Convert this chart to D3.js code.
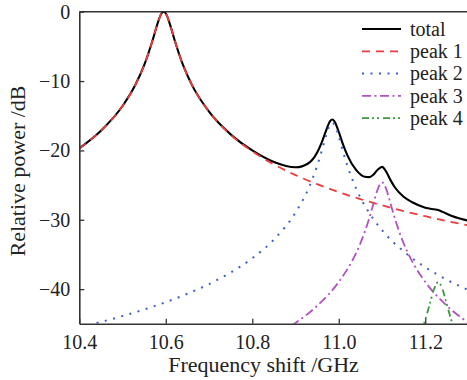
<!DOCTYPE html>
<html><head><meta charset="utf-8">
<script src="https://cdn.jsdelivr.net/npm/d3@7"></script>
<style>body{margin:0;background:#fff}svg{display:block}</style>
</head><body>
<script>
// ---- data ----
const xTicks = [10.4, 10.6, 10.8, 11.0, 11.2];
const yTicks = [0, -10, -20, -30, -40];
const seriesNames = ["total", "peak 1", "peak 2", "peak 3", "peak 4"];

const totalF = [10.40,10.45,10.50,10.53,10.55,10.57,10.58,10.59,10.595,10.60,10.61,10.62,10.64,10.66,10.70,10.75,10.80,10.85,10.90,10.93,10.95,10.96,10.97,10.98,10.985,10.99,11.00,11.01,11.02,11.04,11.06,11.07,11.08,11.09,11.10,11.11,11.12,11.13,11.15,11.17,11.20,11.22,11.23,11.24,11.26,11.28,11.30];
const totalDb = [-19.70,-17.16,-13.60,-10.51,-7.72,-4.01,-1.89,-0.26,0,-0.26,-1.89,-4.01,-7.72,-10.51,-14.41,-17.69,-20.01,-21.67,-22.43,-21.85,-20.31,-18.96,-17.25,-15.78,-15.54,-15.80,-17.33,-19.17,-20.72,-22.81,-23.80,-23.85,-23.50,-22.78,-22.37,-23.10,-24.32,-25.35,-26.68,-27.48,-28.26,-28.49,-28.59,-28.86,-29.41,-29.81,-30.15];

const peak1F = [10.40,10.45,10.50,10.53,10.55,10.57,10.58,10.59,10.595,10.60,10.61,10.62,10.64,10.66,10.70,10.75,10.80,10.85,10.90,10.95,11.00,11.05,11.10,11.15,11.20,11.25,11.30];
const peak1Db = [-19.70,-17.16,-13.60,-10.51,-7.72,-4.01,-1.89,-0.26,0,-0.26,-1.89,-4.01,-7.72,-10.51,-14.43,-17.73,-20.13,-22.01,-23.56,-24.87,-26.01,-27.02,-27.92,-28.74,-29.49,-30.18,-30.82];

const peak2F = [10.44,10.45,10.50,10.55,10.60,10.65,10.70,10.75,10.80,10.85,10.90,10.93,10.95,10.96,10.97,10.98,10.985,10.99,11.00,11.01,11.02,11.04,11.07,11.10,11.15,11.20,11.25,11.30];
const peak2Db = [-44.89,-44.73,-43.88,-42.94,-41.88,-40.67,-39.27,-37.61,-35.55,-32.85,-28.97,-25.48,-22.22,-20.20,-18.00,-16.27,-16.00,-16.27,-18.00,-20.20,-22.22,-25.48,-28.97,-31.50,-34.57,-36.84,-38.65,-40.14];

const peak3F = [10.89,10.90,10.95,11.00,11.03,11.05,11.07,11.08,11.09,11.10,11.11,11.12,11.13,11.15,11.17,11.20,11.25,11.30];
const peak3Db = [-45.28,-44.87,-42.40,-38.96,-36.03,-33.40,-29.87,-27.72,-25.61,-24.60,-25.61,-27.72,-29.87,-33.40,-36.03,-38.96,-42.40,-44.87];

const peak4F = [11.19,11.20,11.21,11.22,11.23,11.24,11.25,11.26,11.27];
const peak4Db = [-46.35,-44.43,-42.24,-40.06,-39.00,-40.06,-42.24,-44.43,-46.35];

// ---- layout ----
const W = 467, H = 380;
const m = {left: 79.3, top: 11.7, right: 468.5, bottom: 323.8};
const x = d3.scaleLinear().domain([10.4, 11.3]).range([m.left, m.right]);
const y = d3.scaleLinear().domain([-45, 0]).range([m.bottom, m.top]);

const svg = d3.select("body").append("svg").attr("width", W).attr("height", H);
const font = "'Liberation Serif', 'Times New Roman', serif";

svg.append("defs").append("clipPath").attr("id", "clip")
  .append("rect").attr("x", m.left).attr("y", m.top).attr("width", m.right - m.left).attr("height", m.bottom - m.top);

const styles = [
  {color: "#000000", width: 2.1, dash: null},
  {color: "#ee3b3b", width: 1.8, dash: "8,6"},
  {color: "#3f5fc8", width: 2.0, dash: "2,6.5"},
  {color: "#b152c0", width: 1.8, dash: "9,3.5,2,3.5"},
  {color: "#3c963c", width: 1.8, dash: "7,3,2,3,2,4"}
];

const series = [
  {f: totalF, v: totalDb},
  {f: peak1F, v: peak1Db},
  {f: peak2F, v: peak2Db},
  {f: peak3F, v: peak3Db},
  {f: peak4F, v: peak4Db}
];

const line = d3.line().x(d => x(d[0])).y(d => y(d[1])).curve(d3.curveMonotoneX);
const g = svg.append("g").attr("clip-path", "url(#clip)");
// draw peaks first, total under the red peak 1 dashed line
[0, 1, 2, 3, 4].forEach(i => {
  const pts = series[i].f.map((f, j) => [f, series[i].v[j]]);
  g.append("path").attr("d", line(pts)).attr("fill", "none")
    .attr("stroke", styles[i].color).attr("stroke-width", styles[i].width)
    .attr("stroke-dasharray", styles[i].dash).attr("stroke-linejoin", "round");
});

// axes
const xAxis = d3.axisBottom(x).tickValues(xTicks).tickFormat(d3.format(".1f")).tickSizeInner(-5).tickSizeOuter(0).tickPadding(11);
const gx = svg.append("g").attr("transform", `translate(0,${m.bottom})`).call(xAxis);
const yAxis = d3.axisLeft(y).tickValues(yTicks).tickFormat(d => d === 0 ? "0" : "\u2212" + Math.abs(d)).tickSizeInner(-5).tickSizeOuter(0).tickPadding(9);
const gy = svg.append("g").attr("transform", `translate(${m.left},0)`).call(yAxis);
[gx, gy].forEach(a => {
  a.select(".domain").attr("stroke", "#333").attr("stroke-width", 1.6);
  a.selectAll(".tick line").attr("stroke", "#333").attr("stroke-width", 1.3);
  a.selectAll(".tick text").attr("font-family", font).attr("font-size", 20).attr("fill", "#222");
});
// top frame
svg.append("line").attr("x1", m.left).attr("x2", m.right).attr("y1", m.top).attr("y2", m.top)
  .attr("stroke", "#333").attr("stroke-width", 1.6);

// axis titles
svg.append("text").attr("x", 263.5).attr("y", 371.5).attr("text-anchor", "middle")
  .attr("font-family", font).attr("font-size", 22).attr("fill", "#222").text("Frequency shift /GHz");
svg.append("text").attr("transform", "translate(25,171) rotate(-90)").attr("text-anchor", "middle")
  .attr("font-family", font).attr("font-size", 22).attr("fill", "#222").text("Relative power /dB");

// legend
const lg = svg.append("g");
seriesNames.forEach((name, i) => {
  const yy = 29 + i * 22.3;
  lg.append("line").attr("x1", 362).attr("x2", 401).attr("y1", yy).attr("y2", yy)
    .attr("stroke", styles[i].color).attr("stroke-width", styles[i].width)
    .attr("stroke-dasharray", styles[i].dash);
  lg.append("text").attr("x", 410).attr("y", yy).attr("dy", "0.33em")
    .attr("font-family", font).attr("font-size", 20).attr("fill", "#222").text(name);
});
</script>
</body></html>
